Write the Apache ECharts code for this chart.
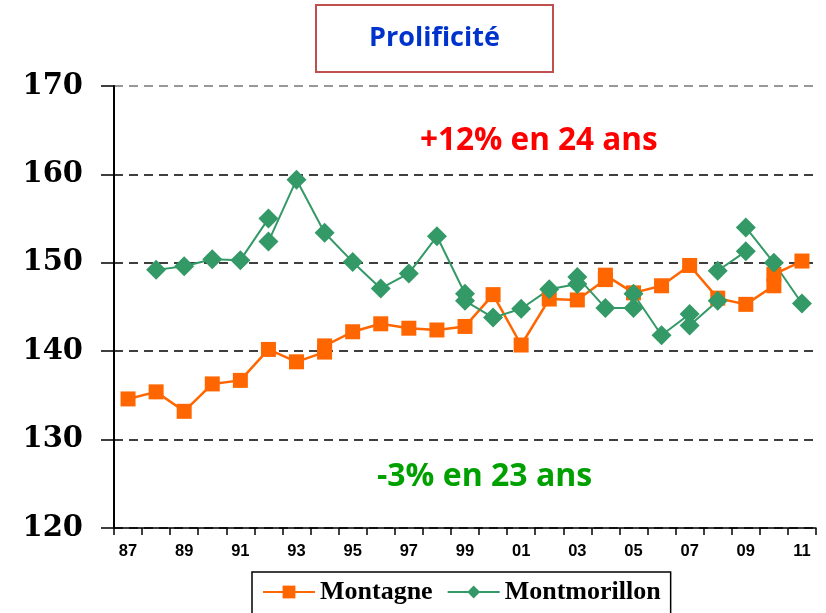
<!DOCTYPE html>
<html>
<head>
<meta charset="utf-8">
<title>Prolificité</title>
<script src="https://cdn.jsdelivr.net/npm/echarts@6/dist/echarts.min.js"></script>
</head>
<body style="margin:0">
<div id="main" style="width:826px;height:613px;"></div>
<script type="text/javascript">
// catégories (années) et valeurs
var years = ['87','88','89','90','91','92','93','94','95','96','97','98','99',
             '00','01','02','03','04','05','06','07','08','09','10','11'];
var yTicks = [120, 130, 140, 150, 160, 170];

// '-' = coupure de la ligne entre deux points de la même année
var montagneX = ['87','88','89','90','91','92','93','94','94','94','95','96','97','98','99',
                 '00','01','02','03','04','04','04','05','06','07','08','09','10','10','10','11'];
var montagneY = [134.6,135.4,133.2,136.3,136.7,140.2,138.8,139.9,'-',140.6,142.2,143.1,142.6,142.4,142.8,
                 146.4,140.7,145.9,145.8,148.1,'-',148.6,146.6,147.4,149.7,146.0,145.3,147.4,'-',148.7,150.2];

var montmoX = ['88','89','90','91','92','92','92','93','94','95','96','97','98','99','99','99',
               '00','01','02','03','03','03','04','05','05','05','06','07','07','07',
               '08','08','08','09','09','09','10','11'];
var montmoY = [149.2,149.6,150.4,150.3,155.0,'-',152.4,159.4,153.4,150.1,147.1,148.8,153.0,146.5,'-',145.7,
               143.8,144.8,147.0,147.6,'-',148.4,144.9,144.9,'-',146.5,141.8,144.2,'-',142.9,
               145.7,'-',149.1,151.3,'-',154.0,150.0,145.4];

function pairs(xs, ys) {
  return xs.map(function (x, i) { return [x, ys[i]]; });
}

var myChart = echarts.init(document.getElementById('main'));
var option = {
  animation: false,
  backgroundColor: '#fff',
  title: [{
    text: 'Prolificité',
    left: 316, top: 5,
    padding: [20, 53, 20, 53],
    borderColor: '#c0504d', borderWidth: 2,
    textStyle: { color: '#0033cc', fontFamily: 'Open Sans', fontWeight: 'bold', fontSize: 27 }
  }, {
    text: '+12% en 24 ans',
    left: 420, top: 125, padding: 0,
    textStyle: { color: '#ff0000', fontFamily: 'Open Sans', fontWeight: 'bold', fontSize: 31.5 }
  }, {
    text: '-3% en 23 ans',
    left: 377, top: 461, padding: 0,
    textStyle: { color: '#00a000', fontFamily: 'Open Sans', fontWeight: 'bold', fontSize: 32 }
  }],
  legend: {
    left: 252, top: 572,
    padding: [7, 10, 20, 10],
    borderColor: '#000', borderWidth: 1.5,
    itemWidth: 52, itemHeight: 16, itemGap: 14,
    textStyle: { color: '#000', fontFamily: 'Liberation Serif', fontWeight: 'bold', fontSize: 26 },
    data: ['Montagne', 'Montmorillon']
  },
  grid: { left: 114, right: 10, top: 86, bottom: 85 },
  xAxis: {
    type: 'category',
    data: years,
    boundaryGap: true,
    axisLine: { lineStyle: { color: '#000', width: 1.5 } },
    axisTick: { show: true, interval: 0, length: 7, lineStyle: { color: '#000', width: 1.5 } },
    axisLabel: { interval: 1, margin: 15, color: '#000', fontFamily: 'Liberation Sans', fontWeight: 'bold', fontSize: 16.5 }
  },
  yAxis: {
    type: 'value',
    min: yTicks[0], max: yTicks[yTicks.length - 1], interval: 10,
    axisLine: { show: true, lineStyle: { color: '#000', width: 2 } },
    axisTick: { show: true, length: 13, lineStyle: { color: '#000', width: 1.5 } },
    axisLabel: { margin: 31, color: '#000', fontFamily: 'DejaVu Serif', fontWeight: 'bold', fontSize: 29 },
    splitLine: { show: true, lineStyle: { color: ['#000', '#000', '#000', '#000', '#000', '#777'], type: [9, 6], width: 1.5 } }
  },
  series: [{
    name: 'Montagne',
    type: 'line',
    data: pairs(montagneX, montagneY),
    symbol: 'rect', symbolSize: 15,
    showAllSymbol: true,
    connectNulls: false,
    lineStyle: { color: '#ff6600', width: 2.5 },
    itemStyle: { color: '#ff6600' }
  }, {
    name: 'Montmorillon',
    type: 'line',
    data: pairs(montmoX, montmoY),
    symbol: 'diamond', symbolSize: 20,
    showAllSymbol: true,
    connectNulls: false,
    lineStyle: { color: '#339966', width: 2 },
    itemStyle: { color: '#339966' }
  }]
};
myChart.setOption(option);
</script>
</body>
</html>
